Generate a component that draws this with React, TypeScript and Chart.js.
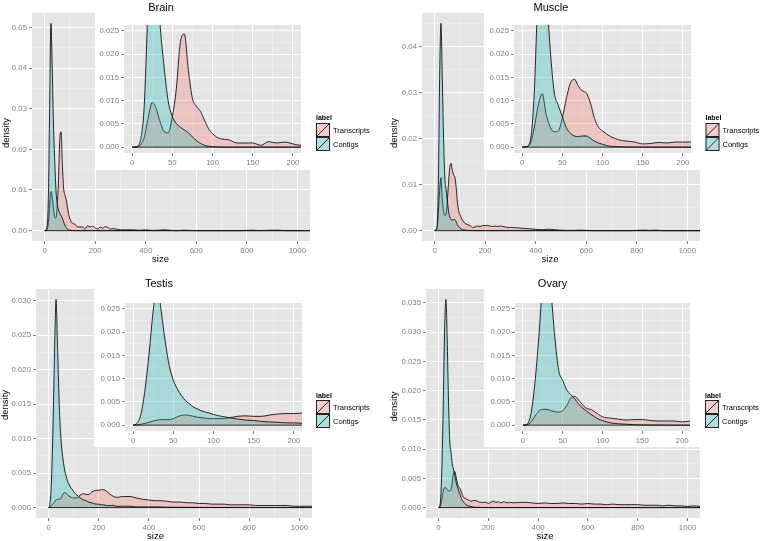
import React, { useEffect, useRef } from "react";
import { Chart, registerables } from "chart.js";
Chart.register(...registerables);

// ---------- data ----------
const SIZES = [
  0, 5, 10, 15, 20, 25, 30, 35, 40, 45, 50, 55, 60, 65, 70, 75, 80, 85, 90, 95, 100,
  110, 120, 130, 140, 150, 160, 170, 180, 190, 200, 210, 220, 230, 240, 250, 260, 270, 280, 290, 300,
  325, 350, 375, 400, 425, 450, 475, 500, 525, 550, 575, 600, 625, 650, 675, 700, 725, 750, 775, 800,
  825, 850, 875, 900, 925, 950, 975, 1000, 1025, 1050,
];

const brainTranscripts = [
  0, 0, 0.0004, 0.002, 0.0062, 0.0096, 0.0083, 0.0054, 0.0033, 0.0031, 0.0065, 0.0125, 0.0225, 0.0243, 0.0165, 0.0105, 0.0088, 0.0077, 0.0058, 0.004, 0.0029,
  0.0018, 0.0016, 0.0009, 0.0009, 0.0009, 0.0004, 0.0012, 0.0009, 0.0011, 0.0007, 0.0004, 0.0009, 0.0006, 0.001, 0.0008, 0.0004, 0.0005, 0.0004, 0.0003, 0.0002,
  0.0002, 0.0002, 0.0001, 0.0002, 0.00005, 0.0001, 0.0002, 0.00005, 0, 0.0001, 0.00005, 0, 0, 0, 0, 0, 0, 0, 0, 0.00005,
  0.0001, 0, 0.00005, 0.0001, 0.0001, 0, 0, 0, 0, 0,
];
const brainContigs = [
  0, 0.0001, 0.0012, 0.0085, 0.031, 0.051, 0.04, 0.026, 0.017, 0.0098, 0.0066, 0.0051, 0.0043, 0.0037, 0.0031, 0.0022, 0.0014, 0.0008, 0.0004, 0.0002, 0.0001,
  0.00003, 0, 0, 0, 0, 0, 0, 0, 0, 0, 0, 0, 0, 0, 0, 0, 0, 0, 0, 0,
  0, 0, 0, 0, 0, 0, 0, 0, 0, 0, 0, 0, 0, 0, 0, 0, 0, 0, 0, 0,
  0, 0, 0, 0, 0, 0, 0, 0, 0, 0,
];
const muscleTranscripts = [
  0, 0.0001, 0.0007, 0.004, 0.0089, 0.0115, 0.007, 0.0043, 0.0033, 0.0035, 0.0062, 0.0104, 0.0137, 0.0146, 0.0131, 0.0121, 0.0116, 0.0095, 0.0062, 0.0043, 0.0035,
  0.0023, 0.0016, 0.0013, 0.0011, 0.0007, 0.0008, 0.001, 0.0009, 0.0011, 0.0011, 0.0011, 0.001, 0.0009, 0.001, 0.0009, 0.001, 0.0009, 0.0008, 0.0007, 0.0007,
  0.0006, 0.0005, 0.0004, 0.0003, 0.0002, 0.0003, 0.0002, 0.0001, 0.00005, 0.00005, 0.0001, 0.00005, 0, 0, 0, 0, 0, 0, 0, 0.00005,
  0.0001, 0.00005, 0.0001, 0, 0, 0, 0, 0, 0, 0,
];
const muscleContigs = [
  0, 0.0001, 0.0012, 0.011, 0.034, 0.045, 0.034, 0.021, 0.0118, 0.009, 0.0066, 0.0042, 0.003, 0.0024, 0.0023, 0.0024, 0.0024, 0.0019, 0.0013, 0.0009, 0.0006,
  0.0002, 0.0001, 0.00005, 0.00003, 0.00002, 0, 0, 0, 0, 0, 0, 0, 0, 0, 0, 0, 0, 0, 0, 0,
  0, 0, 0, 0, 0, 0, 0, 0, 0, 0, 0, 0, 0, 0, 0, 0, 0, 0, 0, 0,
  0, 0, 0, 0, 0, 0, 0, 0, 0, 0,
];
const testisTranscripts = [
  0, 0.00005, 0.0002, 0.0004, 0.0006, 0.0009, 0.0011, 0.0012, 0.0012, 0.0012, 0.0014, 0.0018, 0.0021, 0.0022, 0.0021, 0.0019, 0.0017, 0.0016, 0.0015, 0.0014, 0.0014,
  0.0014, 0.0016, 0.0019, 0.002, 0.0019, 0.0019, 0.0022, 0.0024, 0.0025, 0.0025, 0.0026, 0.0026, 0.0024, 0.0021, 0.0018, 0.0016, 0.0015, 0.0015, 0.0016, 0.0016,
  0.0016, 0.0014, 0.0012, 0.0011, 0.001, 0.001, 0.0009, 0.0008, 0.0008, 0.0007, 0.0007, 0.0006, 0.0006, 0.0005, 0.0005, 0.0005, 0.0004, 0.0004, 0.0004, 0.0004,
  0.0003, 0.0003, 0.0003, 0.0003, 0.0003, 0.0003, 0.0002, 0.0002, 0.0002, 0.0002,
];
const testisContigs = [
  0, 0.0004, 0.0025, 0.0078, 0.0155, 0.0245, 0.0302, 0.0245, 0.018, 0.0128, 0.0097, 0.0078, 0.0064, 0.0053, 0.0046, 0.0039, 0.0035, 0.0031, 0.0028, 0.0026, 0.0023,
  0.0019, 0.0016, 0.0013, 0.0011, 0.001, 0.0008, 0.0007, 0.0006, 0.0005, 0.0005, 0.0004, 0.0004, 0.0003, 0.0003, 0.0003, 0.0003, 0.0002, 0.0002, 0.0002, 0.0002,
  0.0002, 0.0001, 0.0001, 0.0001, 0.0001, 0.00008, 0.00006, 0.00005, 0.00005, 0.00004, 0.00004, 0.00003, 0.00003, 0.00003, 0.00002, 0.00002, 0.00002, 0.00002, 0.00002, 0.00001,
  0.00001, 0.00001, 0.00001, 0.00001, 0.00001, 0.00001, 0.00001, 0.00001, 0.00001, 0.00001,
];
const ovaryTranscripts = [
  0, 0.0001, 0.0006, 0.0019, 0.003, 0.0034, 0.0034, 0.0031, 0.0029, 0.0028, 0.0031, 0.0042, 0.0058, 0.0062, 0.0054, 0.0044, 0.0036, 0.0034, 0.0029, 0.0023, 0.0018,
  0.0015, 0.0013, 0.0011, 0.0012, 0.0012, 0.001, 0.0009, 0.0009, 0.0009, 0.0007, 0.0009, 0.0011, 0.0009, 0.001, 0.0008, 0.001, 0.0009, 0.0008, 0.0009, 0.0008,
  0.0009, 0.0009, 0.0008, 0.0007, 0.0008, 0.0007, 0.0007, 0.0008, 0.0007, 0.0007, 0.0006, 0.0007, 0.0006, 0.0006, 0.0005, 0.0006, 0.0005, 0.0005, 0.0005, 0.0005,
  0.0004, 0.0004, 0.0004, 0.0003, 0.0004, 0.0003, 0.0003, 0.0002, 0.0003, 0.0002,
];
const ovaryContigs = [
  0, 0.0002, 0.0024, 0.009, 0.019, 0.031, 0.0356, 0.029, 0.019, 0.0117, 0.0096, 0.0076, 0.0066, 0.0057, 0.0045, 0.0037, 0.003, 0.0024, 0.0018, 0.0013, 0.001,
  0.0005, 0.0003, 0.0002, 0.0001, 0.00005, 0.00003, 0.00002, 0.00001, 0, 0, 0, 0, 0, 0, 0, 0, 0, 0, 0, 0,
  0, 0, 0, 0, 0, 0, 0, 0, 0, 0, 0, 0, 0, 0, 0, 0, 0, 0, 0, 0,
  0, 0, 0, 0, 0, 0, 0, 0, 0, 0,
];

const seriesLabels = ["Transcripts", "Contigs"];
const legendTitle = "label";
const xAxisTitle = "size";
const yAxisTitle = "density";

const mainXTicks = [0, 200, 400, 600, 800, 1000];
const mainXLimits = [0, 1000];
const insetXTicks = [0, 50, 100, 150, 200];
const insetXLimits = [0, 200];
const insetYTicks = [0, 0.005, 0.01, 0.015, 0.02, 0.025];
const insetYLimits = [0, 0.025];
const brainYTicks = [0, 0.01, 0.02, 0.03, 0.04, 0.05];
const muscleYTicks = [0, 0.01, 0.02, 0.03, 0.04];
const testisYTicks = [0, 0.005, 0.01, 0.015, 0.02, 0.025, 0.03];
const ovaryYTicks = [0, 0.005, 0.01, 0.015, 0.02, 0.025, 0.03, 0.035];

// ---------- styling ----------
const FONT = '"Liberation Sans", Arial, Helvetica, sans-serif';
const TRANS_FILL = "rgba(248,118,109,0.3)";
const CONTIG_FILL = "rgba(25,182,182,0.3)";
const LINE = "#111111";

const PANELS: any[] = [
  {
    title: "Brain", trans: brainTranscripts, contig: brainContigs, yTicks: brainYTicks, dec: 2,
    quad: { x: 0, y: 0, w: 381, h: 270 }, area: { L: 32, R: 310, T: 13, B: 241 },
    inset: { x: 95, y: 13, w: 215, h: 157, L: 124, R: 301, T: 25, B: 153 },
    titlePos: [161, 10.5], sizePos: [160.5, 261.5], densPos: [8.6, 133],
    legend: { x: 316, titleY: 120, keyTop: 123 },
  },
  {
    title: "Muscle", trans: muscleTranscripts, contig: muscleContigs, yTicks: muscleYTicks, dec: 2,
    quad: { x: 380, y: 0, w: 383, h: 270 }, area: { L: 422, R: 700, T: 13, B: 241 },
    inset: { x: 484, y: 13, w: 216, h: 157, L: 514, R: 691, T: 25, B: 153 },
    titlePos: [551, 10.5], sizePos: [550, 261.5], densPos: [396.5, 133],
    legend: { x: 705.5, titleY: 120, keyTop: 123 },
  },
  {
    title: "Testis", trans: testisTranscripts, contig: testisContigs, yTicks: testisYTicks, dec: 3,
    quad: { x: 0, y: 270, w: 381, h: 271 }, area: { L: 36, R: 312, T: 289, B: 518 },
    inset: { x: 94, y: 289, w: 218, h: 158, L: 125, R: 302, T: 303, B: 431 },
    titlePos: [159, 287], sizePos: [155.5, 538.5], densPos: [8.3, 405],
    legend: { x: 316, titleY: 398, keyTop: 400 },
  },
  {
    title: "Ovary", trans: ovaryTranscripts, contig: ovaryContigs, yTicks: ovaryYTicks, dec: 3,
    quad: { x: 380, y: 270, w: 383, h: 271 }, area: { L: 426, R: 700, T: 289, B: 518 },
    inset: { x: 484, y: 289, w: 216, h: 158, L: 515, R: 690, T: 303, B: 431 },
    titlePos: [552.5, 287], sizePos: [545, 538.5], densPos: [396.5, 406.5],
    legend: { x: 705, titleY: 398, keyTop: 400 },
  },
];

function expand(lo: number, hi: number) {
  const d = (hi - lo) * 0.05;
  return [lo - d, hi + d];
}

function minorsOf(majors: number[], min: number, max: number) {
  const step = majors[1] - majors[0];
  const res: number[] = [];
  for (let i = -1; i < majors.length; i++) {
    const m = majors[0] + step * (i + 0.5);
    if (m > min && m < max) res.push(m);
  }
  return res;
}

function axis(min: number, max: number, majors: number[], fmt: (v: number) => string, horizontal: boolean, fit: number, pad: number) {
  const minors = minorsOf(majors, min, max);
  const all = [...majors, ...minors].sort((a, b) => a - b);
  const isMajor = (v: number) => majors.some((m) => Math.abs(m - v) < 1e-9);
  const tv = (c: any) => (c && c.tick ? c.tick.value : NaN);
  return {
    type: "linear",
    min,
    max,
    afterBuildTicks: (s: any) => {
      s.ticks = all.map((v) => ({ value: v }));
    },
    afterFit: (s: any) => {
      if (horizontal) s.height = fit;
      else s.width = fit;
    },
    grid: {
      color: (c: any) => (isMajor(tv(c)) ? "#FFFFFF" : "#F2F2F2"),
      lineWidth: (c: any) => (isMajor(tv(c)) ? 1 : 0.6),
      tickColor: (c: any) => (isMajor(tv(c)) ? "#7F7F7F" : "rgba(0,0,0,0)"),
      tickWidth: 1,
      tickLength: 3,
      drawTicks: true,
    },
    border: { display: false },
    ticks: {
      autoSkip: false,
      maxRotation: 0,
      minRotation: 0,
      padding: pad,
      color: "#7F7F7F",
      font: { family: FONT, size: 7.8 },
      callback: (v: any) => (isMajor(Number(v)) ? fmt(Number(v)) : ""),
    },
  };
}

const decoPlugin: any = {
  id: "deco",
  beforeDraw(chart: any, _a: any, o: any) {
    const { ctx, chartArea: a } = chart;
    ctx.save();
    if (o.white) {
      ctx.fillStyle = "#FFFFFF";
      ctx.fillRect(0, 0, chart.width, chart.height);
    }
    ctx.fillStyle = "#E5E5E5";
    ctx.fillRect(a.left, a.top, a.right - a.left, a.bottom - a.top);
    ctx.restore();
  },
  afterDraw(chart: any, _a: any, o: any) {
    const ctx = chart.ctx;
    ctx.save();
    ctx.fillStyle = "#000";
    ctx.textBaseline = "alphabetic";
    if (o.title) {
      ctx.font = `11px ${FONT}`;
      ctx.textAlign = "center";
      ctx.fillText(o.title, o.titleX, o.titleY);
    }
    if (o.xTitle) {
      ctx.font = `9.5px ${FONT}`;
      ctx.textAlign = "center";
      ctx.fillText(o.xTitle, o.xTitleX, o.xTitleY);
    }
    if (o.yTitle) {
      ctx.save();
      ctx.font = `9.5px ${FONT}`;
      ctx.translate(o.yTitleX, o.yTitleY);
      ctx.rotate(-Math.PI / 2);
      ctx.textAlign = "center";
      ctx.fillText(o.yTitle, 0, 0);
      ctx.restore();
    }
    if (o.legend) {
      const L = o.legend;
      const k = 14;
      ctx.font = `bold 7px ${FONT}`;
      ctx.textAlign = "left";
      ctx.fillStyle = "#000";
      ctx.fillText(L.title, L.x, L.titleY);
      L.items.forEach((it: any, i: number) => {
        const top = L.keyTop + i * k;
        ctx.fillStyle = "#F2F2F2";
        ctx.fillRect(L.x, top, k, k);
        ctx.fillStyle = it.fill;
        ctx.fillRect(L.x, top, k, k);
        ctx.strokeStyle = LINE;
        ctx.lineWidth = 0.9;
        ctx.strokeRect(L.x + 0.5, top + 0.5, k - 1, k - 1);
        ctx.beginPath();
        ctx.moveTo(L.x + 0.5, top + k - 0.5);
        ctx.lineTo(L.x + k - 0.5, top + 0.5);
        ctx.stroke();
        ctx.fillStyle = "#000";
        ctx.font = `7.5px ${FONT}`;
        ctx.textBaseline = "middle";
        ctx.fillText(it.label, L.x + k + 3, top + k / 2 + 0.5);
        ctx.textBaseline = "alphabetic";
      });
    }
    ctx.restore();
  },
};

function datasets(p: any) {
  const pts = (ys: number[]) => SIZES.map((x, i) => ({ x, y: ys[i] }));
  const common = {
    borderColor: LINE,
    borderWidth: 0.9,
    pointRadius: 0,
    fill: "origin",
    cubicInterpolationMode: "monotone",
  };
  return [
    { ...common, label: seriesLabels[0], data: pts(p.trans), backgroundColor: TRANS_FILL, order: 2 },
    { ...common, label: seriesLabels[1], data: pts(p.contig), backgroundColor: CONTIG_FILL, order: 1 },
    {
      label: "base",
      data: [
        { x: SIZES[0], y: 0 },
        { x: SIZES[SIZES.length - 1], y: 0 },
      ],
      borderColor: LINE,
      borderWidth: 0.9,
      pointRadius: 0,
      fill: false,
      order: 0,
    },
  ];
}

function mainConfig(p: any) {
  const q = p.quad;
  const l = p.area.L - q.x, r = p.area.R - q.x, t = p.area.T - q.y, b = p.area.B - q.y;
  const XH = 16;
  const peak = Math.max(...p.trans, ...p.contig);
  const [ymin, ymax] = expand(0, peak);
  const [xmin, xmax] = expand(mainXLimits[0], mainXLimits[1]);
  return {
    type: "line",
    data: { datasets: datasets(p) },
    plugins: [decoPlugin],
    options: {
      responsive: false,
      maintainAspectRatio: false,
      animation: false,
      events: [],
      layout: { padding: { left: 0, top: t, right: q.w - r, bottom: q.h - b - XH } },
      scales: {
        x: axis(xmin, xmax, mainXTicks, (v) => String(v), true, XH, 2),
        y: axis(ymin, ymax, p.yTicks, (v) => v.toFixed(p.dec), false, l, 2),
      },
      plugins: {
        legend: { display: false },
        tooltip: { enabled: false },
        deco: {
          white: false,
          title: p.title, titleX: p.titlePos[0] - q.x, titleY: p.titlePos[1] - q.y,
          xTitle: xAxisTitle, xTitleX: p.sizePos[0] - q.x, xTitleY: p.sizePos[1] - q.y,
          yTitle: yAxisTitle, yTitleX: p.densPos[0] - q.x, yTitleY: p.densPos[1] - q.y,
          legend: {
            title: legendTitle,
            x: p.legend.x - q.x,
            titleY: p.legend.titleY - q.y,
            keyTop: p.legend.keyTop - q.y,
            items: [
              { label: seriesLabels[0], fill: TRANS_FILL },
              { label: seriesLabels[1], fill: CONTIG_FILL },
            ],
          },
        },
      },
    },
  };
}

function insetConfig(p: any) {
  const n = p.inset;
  const l = n.L - n.x, r = n.R - n.x, t = n.T - n.y, b = n.B - n.y;
  const XH = 14;
  const [xmin, xmax] = expand(insetXLimits[0], insetXLimits[1]);
  const [ymin, ymax] = expand(insetYLimits[0], insetYLimits[1]);
  return {
    type: "line",
    data: { datasets: datasets(p) },
    plugins: [decoPlugin],
    options: {
      responsive: false,
      maintainAspectRatio: false,
      animation: false,
      events: [],
      layout: { padding: { left: 0, top: t, right: n.w - r, bottom: n.h - b - XH } },
      scales: {
        x: axis(xmin, xmax, insetXTicks, (v) => String(v), true, XH, 2),
        y: axis(ymin, ymax, insetYTicks, (v) => v.toFixed(3), false, l, 2),
      },
      plugins: {
        legend: { display: false },
        tooltip: { enabled: false },
        deco: { white: true },
      },
    },
  };
}

function ChartCanvas({ make, x, y, w, h }: any) {
  const ref = useRef<HTMLCanvasElement | null>(null);
  useEffect(() => {
    const chart = new Chart(ref.current as any, make() as any);
    return () => chart.destroy();
  }, []);
  return (
    <canvas
      ref={ref}
      width={w}
      height={h}
      style={{ position: "absolute", left: x, top: y, width: w, height: h }}
    />
  );
}

export default function App() {
  return (
    <div style={{ position: "absolute", left: 0, top: 0, width: 763, height: 541, background: "#FFFFFF", overflow: "hidden" }}>
      {PANELS.map((p) => (
        <React.Fragment key={p.title}>
          <ChartCanvas make={() => mainConfig(p)} x={p.quad.x} y={p.quad.y} w={p.quad.w} h={p.quad.h} />
          <ChartCanvas make={() => insetConfig(p)} x={p.inset.x} y={p.inset.y} w={p.inset.w} h={p.inset.h} />
        </React.Fragment>
      ))}
    </div>
  );
}
